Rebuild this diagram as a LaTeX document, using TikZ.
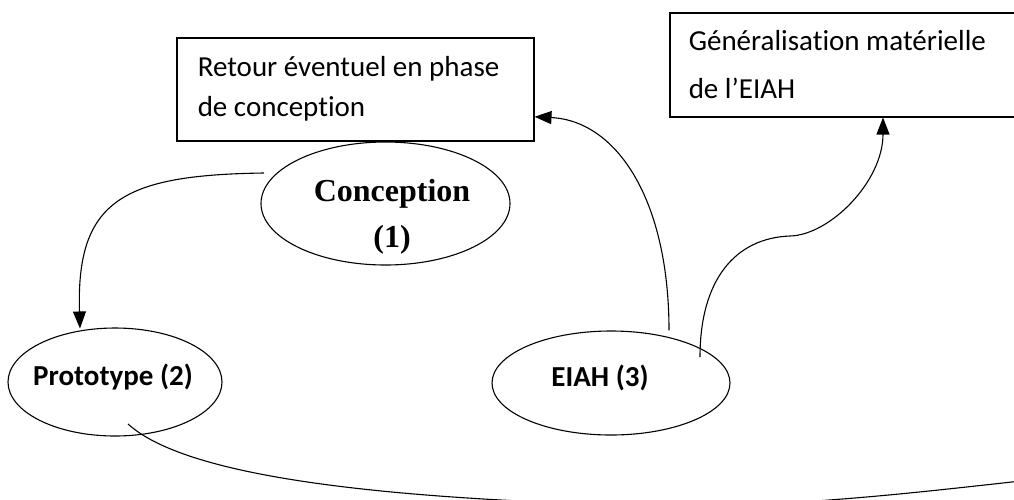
\documentclass[tikz,border=0pt]{standalone}
\usepackage{fontspec}
\setmainfont{Carlito}[Ligatures={TeX,NoCommon}]
\newfontfamily\timesfont{Liberation Serif}
\usetikzlibrary{shapes.geometric,arrows.meta,calc}

\begin{document}
\begin{tikzpicture}[x=1pt,y=-1pt,line width=1.1pt,>={Triangle[length=17pt,width=13pt]}]
\tikzstyle{boite}=[draw,rectangle,line width=1.5pt,anchor=north west,align=flush left,inner ysep=0pt,font=\fontsize{29}{40}\selectfont]
\tikzstyle{etape}=[draw,ellipse,inner sep=0pt]
\tikzstyle{etiquette}=[inner sep=0pt,font=\fontsize{29}{35}\selectfont\bfseries]

\useasboundingbox (0,0) rectangle (1014,499);
\clip (0,0) rectangle (1014,499);

% Write the two boxes
\node[boite,text width=315pt,inner xsep=21pt,minimum height=103pt] (retour) at (176,37) {Retour éventuel en phase\\de conception};
\node[boite,text width=307pt,inner xsep=19pt,minimum height=104pt,font=\fontsize{29}{48}\selectfont] (general) at (669,12) {Généralisation matérielle\\de l’EIAH};

% Draw the three steps
\node[etape,minimum width=249pt,minimum height=123pt] (conception) at (385.5,203.5) {};
\node[etape,minimum width=214pt,minimum height=108pt] (proto) at (115,382) {};
\node[etape,minimum width=238pt,minimum height=104pt] (eiah) at (611,383) {};

\node[etiquette,align=center,font=\timesfont\bfseries\fontsize{32}{46}\selectfont] (conception-txt) at (392,217) {Conception\\(1)};
\node[etiquette,anchor=base] (proto-txt) at (113,385) {Prototype (2)};
\node[etiquette,anchor=base] (eiah-txt) at (600,386) {EIAH (3)};

% Connect the steps
\draw[->] ($(conception.center)+(-121.5,-30.5)$) .. controls +(-140,2) and +(-4,-129) .. ($(proto.north)+(-35,1)$);
\draw[->] ($(eiah.north)+(58,0)$) .. controls +(0,-131) and +(82,4) .. ($(retour.east)+(0,27.5)$);
\draw[->] ($(eiah.center)+(89,-26)$) .. controls +(0,-77) and +(-55,2) .. (790,236)
  .. controls +(40,-1) and +(0,64) .. ($(general.south west)+(214,0)$);

% Long return from the prototype
\coordinate (bord) at (1030,480);
\draw ($(proto.center)+(13,42)$) .. controls +(62,56) and +(-260,-6) .. (660,506)
  .. controls +(140,1) and +(-110,12) .. (bord);

\end{tikzpicture}
\end{document}
